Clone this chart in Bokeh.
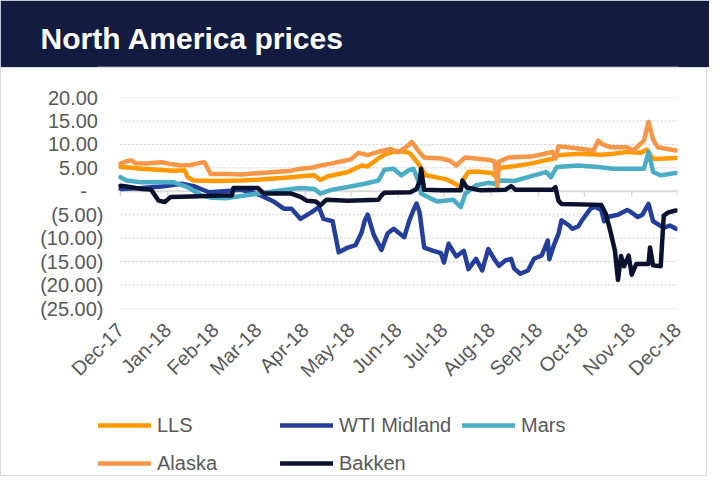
import math
import pandas as pd
from bokeh.plotting import figure
from bokeh.models import Range1d, FixedTicker, Legend, LegendItem, ColumnDataSource
from bokeh.layouts import column
from bokeh.embed import file_html
from bokeh.resources import INLINE

# ---------------- data ----------------
month_ticks = ["2017-12-01", "2018-01-01", "2018-02-01", "2018-03-01", "2018-04-01", "2018-05-01",
               "2018-06-01", "2018-07-01", "2018-08-01", "2018-09-01", "2018-10-01", "2018-11-01", "2018-12-01"]
month_labels = ["Dec-17", "Jan-18", "Feb-18", "Mar-18", "Apr-18", "May-18", "Jun-18",
                "Jul-18", "Aug-18", "Sep-18", "Oct-18", "Nov-18", "Dec-18"]

y_ticks = [20, 15, 10, 5, 0, -5, -10, -15, -20, -25]
y_tick_labels = ["20.00", "15.00", "10.00", "5.00", "-", "(5.00)", "(10.00)", "(15.00)", "(20.00)", "(25.00)"]

lls_dates = ["2017-12-01", "2017-12-08", "2017-12-15", "2017-12-25", "2018-01-05", "2018-01-12", "2018-01-14",
             "2018-01-18", "2018-02-02", "2018-02-18", "2018-03-03", "2018-03-12", "2018-03-23", "2018-03-29",
             "2018-04-07", "2018-04-11", "2018-04-16", "2018-04-29", "2018-05-08", "2018-05-12", "2018-05-19",
             "2018-05-24", "2018-05-31", "2018-06-06", "2018-06-09", "2018-06-15", "2018-06-19", "2018-07-02",
             "2018-07-09", "2018-07-12", "2018-07-14", "2018-07-17", "2018-07-22", "2018-08-01", "2018-08-03",
             "2018-08-07", "2018-08-12", "2018-08-27", "2018-09-05", "2018-09-10", "2018-09-14", "2018-09-27",
             "2018-10-12", "2018-10-20", "2018-10-29", "2018-11-07", "2018-11-11", "2018-11-15", "2018-11-23",
             "2018-11-30"]
lls_vals = [5.2, 5.0, 4.8, 4.6, 4.4, 4.5, 3.0,
            2.3, 2.2, 2.3, 2.5, 2.7, 3.0, 3.2,
            3.4, 2.4, 3.2, 4.1, 5.5, 5.3, 7.0,
            8.0, 8.6, 8.4, 8.0, 5.5, 3.4, 2.6,
            1.5, 0.5, 2.7, 4.1, 4.2, 3.9, 3.4,
            5.0, 5.2, 5.9, 6.6, 6.9, 7.7, 8.0,
            7.8, 8.0, 8.4, 8.2, 8.9, 6.9, 7.0,
            7.1]

alaska_dates = ["2017-12-01", "2017-12-05", "2017-12-08", "2017-12-11", "2017-12-18", "2017-12-28", "2018-01-03",
                "2018-01-10", "2018-01-16", "2018-01-21", "2018-01-25", "2018-01-27", "2018-01-29", "2018-02-08",
                "2018-02-18", "2018-03-03", "2018-03-12", "2018-03-23", "2018-03-29", "2018-04-05", "2018-04-11",
                "2018-04-18", "2018-04-25", "2018-05-01", "2018-05-06", "2018-05-12", "2018-05-21", "2018-05-27",
                "2018-06-01", "2018-06-06", "2018-06-10", "2018-06-14", "2018-06-18", "2018-06-29", "2018-07-05",
                "2018-07-09", "2018-07-12", "2018-07-15", "2018-07-25", "2018-08-01", "2018-08-03", "2018-08-05",
                "2018-08-06", "2018-08-12", "2018-08-27", "2018-09-05", "2018-09-10", "2018-09-12", "2018-09-14",
                "2018-09-27", "2018-10-07", "2018-10-10", "2018-10-13", "2018-10-18", "2018-10-29", "2018-11-02",
                "2018-11-09", "2018-11-12", "2018-11-15", "2018-11-18", "2018-11-30"]
alaska_vals = [5.9, 6.4, 6.6, 6.0, 5.9, 6.2, 5.8,
               5.5, 5.6, 6.0, 6.2, 5.0, 3.7, 3.7,
               3.6, 3.9, 4.1, 4.4, 4.8, 5.0, 5.5,
               5.9, 6.4, 6.8, 8.2, 7.7, 8.6, 9.0,
               8.3, 9.4, 10.5, 8.7, 7.2, 7.0, 6.5,
               5.5, 6.4, 7.2, 6.9, 6.6, 6.4, 1.0,
               6.3, 7.2, 7.4, 8.0, 8.4, 7.0, 9.6,
               9.1, 8.7, 10.8, 10.0, 9.4, 9.4, 8.7,
               10.8, 14.8, 11.0, 9.4, 8.7]

mars_dates = ["2017-12-01", "2017-12-05", "2017-12-15", "2017-12-28", "2018-01-05", "2018-01-14", "2018-01-23",
              "2018-01-30", "2018-02-08", "2018-02-18", "2018-03-01", "2018-03-12", "2018-03-23", "2018-03-29",
              "2018-04-07", "2018-04-11", "2018-04-18", "2018-04-29", "2018-05-10", "2018-05-19", "2018-05-23",
              "2018-05-29", "2018-06-03", "2018-06-08", "2018-06-11", "2018-06-14", "2018-06-16", "2018-06-22",
              "2018-06-27", "2018-07-07", "2018-07-12", "2018-07-15", "2018-07-22", "2018-07-30", "2018-08-03",
              "2018-08-07", "2018-08-16", "2018-08-29", "2018-09-06", "2018-09-09", "2018-09-13", "2018-09-27",
              "2018-10-10", "2018-10-20", "2018-11-09", "2018-11-12", "2018-11-15", "2018-11-20", "2018-11-30"]
mars_vals = [3.0, 2.3, 1.9, 2.0, 1.9, 0.9, -0.9,
             -1.4, -1.5, -1.0, -0.5, 0.0, 0.5, 0.7,
             0.5, -0.5, 0.3, 0.9, 1.6, 2.3, 4.6,
             4.8, 3.4, 4.5, 4.8, 2.3, -0.5, -1.5,
             -2.2, -1.8, -3.4, -0.5, 1.3, 1.8, 1.6,
             2.3, 2.2, 3.4, 4.1, 3.0, 5.2, 5.5,
             5.2, 4.8, 4.8, 8.4, 4.1, 3.4, 3.9]

wti_dates = ["2017-12-01", "2017-12-15", "2017-12-28", "2018-01-10", "2018-01-18", "2018-01-28", "2018-02-18",
             "2018-02-25", "2018-03-03", "2018-03-12", "2018-03-18", "2018-03-23", "2018-03-29", "2018-04-05",
             "2018-04-10", "2018-04-13", "2018-04-19", "2018-04-23", "2018-04-29", "2018-05-04", "2018-05-08",
             "2018-05-10", "2018-05-12", "2018-05-16", "2018-05-21", "2018-05-25", "2018-05-29", "2018-06-05",
             "2018-06-08", "2018-06-11", "2018-06-13", "2018-06-15", "2018-06-18", "2018-06-24", "2018-06-29",
             "2018-07-01", "2018-07-04", "2018-07-09", "2018-07-14", "2018-07-17", "2018-07-22", "2018-07-26",
             "2018-07-30", "2018-08-03", "2018-08-06", "2018-08-10", "2018-08-14", "2018-08-16", "2018-08-20",
             "2018-08-25", "2018-08-29", "2018-09-03", "2018-09-07", "2018-09-08", "2018-09-11", "2018-09-14",
             "2018-09-16", "2018-09-21", "2018-09-23", "2018-09-27", "2018-09-29", "2018-10-05", "2018-10-08",
             "2018-10-12", "2018-10-14", "2018-10-16", "2018-10-23", "2018-10-29", "2018-10-31", "2018-11-05",
             "2018-11-08", "2018-11-12", "2018-11-15", "2018-11-22", "2018-11-26", "2018-11-30"]
wti_vals = [0.5, 0.7, 1.0, 1.6, 1.1, -0.2, 0.3,
            -0.2, -0.9, -2.3, -3.7, -3.7, -5.9, -4.5,
            -3.4, -5.9, -6.4, -13.0, -12.0, -11.5, -8.8,
            -6.3, -5.0, -9.3, -12.5, -9.0, -8.0, -9.8,
            -6.5, -4.0, -2.6, -4.5, -12.0, -12.7, -13.2,
            -15.2, -11.2, -13.9, -12.7, -16.6, -14.4, -16.9,
            -12.3, -14.5, -15.9, -14.8, -14.4, -16.5, -17.6,
            -16.9, -14.4, -13.7, -10.5, -14.5, -11.5, -9.1,
            -6.2, -7.3, -8.0, -7.5, -6.4, -3.7, -3.3,
            -4.0, -6.4, -5.5, -5.0, -4.0, -4.3, -5.5,
            -5.0, -2.7, -6.4, -7.8, -7.3, -8.0]

bakken_dates = ["2017-12-01", "2017-12-05", "2017-12-15", "2017-12-21", "2017-12-26", "2017-12-30", "2018-01-03",
                "2018-01-16", "2018-02-05", "2018-02-12", "2018-02-13", "2018-03-01", "2018-03-05", "2018-03-23",
                "2018-03-29", "2018-04-02", "2018-04-08", "2018-04-11", "2018-04-15", "2018-04-29", "2018-05-19",
                "2018-05-21", "2018-05-23", "2018-06-09", "2018-06-13", "2018-06-15", "2018-06-16", "2018-06-18",
                "2018-06-29", "2018-07-12", "2018-07-13", "2018-07-16", "2018-07-25", "2018-08-10", "2018-08-14",
                "2018-08-17", "2018-09-10", "2018-09-12", "2018-09-14", "2018-09-16", "2018-10-12", "2018-10-15",
                "2018-10-18", "2018-10-21", "2018-10-23", "2018-10-25", "2018-10-27", "2018-10-30", "2018-11-01",
                "2018-11-04", "2018-11-12", "2018-11-13", "2018-11-15", "2018-11-20", "2018-11-21", "2018-11-22",
                "2018-11-25", "2018-11-30"]
bakken_vals = [1.2, 1.0, 0.5, 0.4, -2.0, -2.3, -1.2,
               -1.1, -0.9, -0.9, 0.7, 0.7, -0.5, -0.5,
               -1.2, -2.0, -2.2, -3.0, -1.8, -2.0, -1.8,
               -0.9, -0.3, -0.2, 0.5, 2.0, 4.8, 0.3,
               0.2, 0.2, 2.3, 0.8, 0.2, 0.3, 1.1,
               0.3, 0.3, 0.9, -2.0, -2.7, -2.9, -4.8,
               -8.5, -12.7, -18.9, -13.8, -16.0, -13.7, -17.8,
               -15.5, -15.5, -12.0, -15.8, -16.0, -10.5, -5.2,
               -4.5, -4.1]

series = [
    ("LLS", lls_dates, lls_vals, "#FF9900"),
    ("WTI Midland", wti_dates, wti_vals, "#243F9B"),
    ("Mars", mars_dates, mars_vals, "#4BACC6"),
    ("Alaska", alaska_dates, alaska_vals, "#F79646"),
    ("Bakken", bakken_dates, bakken_vals, "#0B1230"),
]

NAVY = "#131C40"
FONT = "Liberation Sans"
TEXT = "#595959"
GRID = "#C8C8C8"
PANEL = "1px solid #D9D9D9"
LEFT, RIGHT = 96, 31   # border widths so that all frames line up

# ---------------- banner ----------------
banner = figure(width=709, height=67, x_range=(0, 1), y_range=(0, 1),
                x_axis_type=None, y_axis_type=None, toolbar_location=None,
                output_backend="svg", min_border_left=LEFT + 1, min_border_right=RIGHT,
                min_border_top=66, min_border_bottom=0,
                outline_line_color=None,
                background_fill_color=NAVY, border_fill_color=NAVY,
                title="North America prices")
banner.title.text_font = FONT
banner.title.text_font_size = "30px"
banner.title.text_font_style = "bold"
banner.title.text_color = "white"
banner.title.align = "left"
banner.title.offset = -57
banner.title.standoff = 23

# ---------------- chart ----------------
tick_dt = pd.to_datetime(month_ticks)
tick_ms = [int(t.value // 10**6) for t in tick_dt]
x_start = tick_dt[0] - pd.Timedelta(days=14.4)   # room on the left for the legend column

p = figure(width=707, height=327, x_axis_type="datetime",
           x_range=Range1d(x_start, tick_dt[-1]), y_range=Range1d(-25, 20),
           toolbar_location=None, output_backend="svg",
           min_border_left=LEFT, min_border_right=RIGHT, min_border_top=29, min_border_bottom=87,
           outline_line_color=None, background_fill_color="white", border_fill_color="white")
p.styles = {"border-left": PANEL, "border-right": PANEL, "border-top": PANEL}

p.xgrid.visible = False
p.ygrid.visible = False

# dashed horizontal gridlines spanning the data period
grid_y = [t for t in y_ticks if t != 0]
p.segment(x0=[tick_dt[0]] * len(grid_y), y0=grid_y, x1=[tick_dt[-1]] * len(grid_y), y1=grid_y,
          line_color=GRID, line_width=1, line_dash="2 2")


def acct(lab):
    if lab == "-":
        return lab + "\u2007\u00a0"
    if lab.startswith("("):
        return lab
    return lab + "\u00a0"


p.yaxis.ticker = FixedTicker(ticks=y_ticks)
p.yaxis.major_label_overrides = {t: acct(lab) for t, lab in zip(y_ticks, y_tick_labels)}
p.yaxis.axis_line_color = None
p.yaxis.major_tick_line_color = None
p.yaxis.minor_tick_line_color = None
p.yaxis.major_tick_out = 0
p.yaxis.major_label_standoff = -5
p.yaxis.major_label_text_font = FONT
p.yaxis.major_label_text_font_size = "20px"
p.yaxis.major_label_text_color = TEXT

p.xaxis.ticker = FixedTicker(ticks=tick_ms)
p.xaxis.major_label_overrides = {m: lab for m, lab in zip(tick_ms, month_labels)}
p.xaxis.major_label_orientation = math.pi / 4
p.xaxis.axis_line_color = None
p.xaxis.major_tick_line_color = None
p.xaxis.minor_tick_line_color = None
p.xaxis.major_tick_out = 0
p.xaxis.major_label_standoff = 18
p.xaxis.major_label_text_font = FONT
p.xaxis.major_label_text_font_size = "20px"
p.xaxis.major_label_text_color = TEXT

# zero axis line with month tick marks
p.segment(x0=[tick_dt[0]], y0=[0], x1=[tick_dt[-1]], y1=[0], line_color="#D9D9D9", line_width=2)
p.segment(x0=tick_dt, y0=[0] * len(tick_dt), x1=tick_dt, y1=[-1.1] * len(tick_dt),
          line_color="#D9D9D9", line_width=1.5)

# ---------------- legend panel ----------------
lg = figure(width=707, height=82, x_range=p.x_range, y_range=p.y_range,
            x_axis_type=None, y_axis_type=None, toolbar_location=None,
            output_backend="svg", min_border_left=LEFT, min_border_right=RIGHT,
            min_border_top=0, min_border_bottom=0, outline_line_color=None,
            background_fill_color="white", border_fill_color="white")
lg.styles = {"border-left": PANEL, "border-right": PANEL, "border-bottom": PANEL}

items = []
for name, dates, vals, color in series:
    src = ColumnDataSource(dict(x=pd.to_datetime(dates), y=vals))
    style = dict(line_color=color, line_width=4.5, line_join="round", line_cap="round")
    p.line("x", "y", source=src, **style)
    proxy = lg.line("x", "y", source=src, **style)
    proxy.visible = False
    items.append(LegendItem(label=name, renderers=[proxy]))

legend = Legend(items=items, orientation="horizontal", ncols=3,
                location=(0, -1), glyph_width=53, glyph_height=28,
                label_height=28, label_width=113, label_standoff=6, spacing=10,
                padding=0, margin=0, border_line_color=None,
                background_fill_alpha=0, click_policy="none",
                label_text_font=FONT, label_text_font_size="20px",
                label_text_color=TEXT)
lg.add_layout(legend, "center")

layout = column(banner, p, lg, spacing=0)
open("out.html", "w").write(file_html(layout, INLINE))
